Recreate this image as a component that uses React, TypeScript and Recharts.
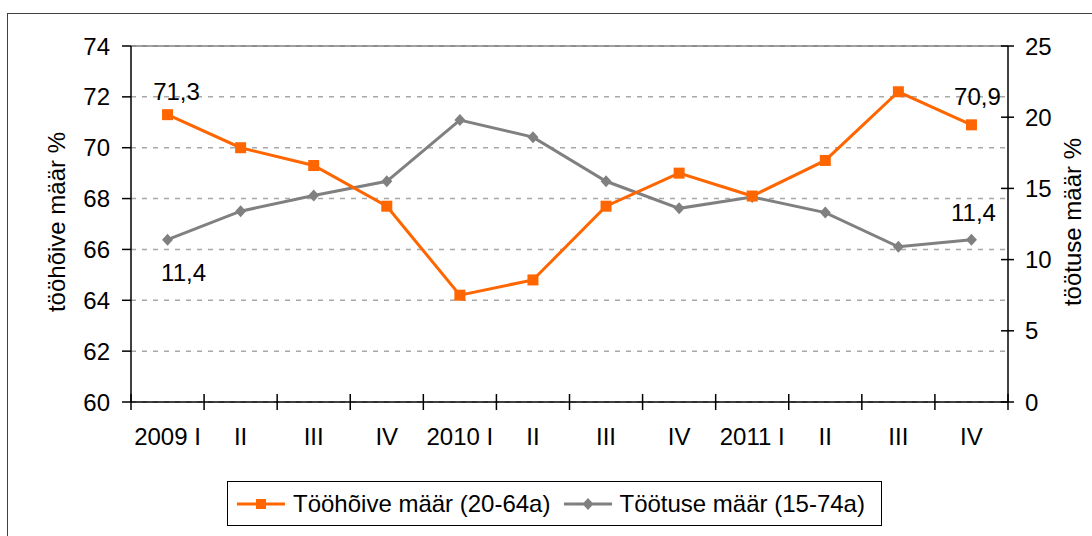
import { ComposedChart, Line, XAxis, YAxis, CartesianGrid, ReferenceLine, Label } from 'recharts';

const quarters = ['2009 I', 'II', 'III', 'IV', '2010 I', 'II', 'III', 'IV', '2011 I', 'II', 'III', 'IV'];
const employmentRate = [71.3, 70.0, 69.3, 67.7, 64.2, 64.8, 67.7, 69.0, 68.1, 69.5, 72.2, 70.9];
const unemploymentRate = [11.4, 13.4, 14.5, 15.5, 19.8, 18.6, 15.5, 13.6, 14.4, 13.3, 10.9, 11.4];
const leftTicks = [60, 62, 64, 66, 68, 70, 72, 74];
const rightTicks = [0, 5, 10, 15, 20, 25];
const seriesNames = ['Tööhõive määr (20-64a)', 'Töötuse määr (15-74a)'];
const axisTitles = ['tööhõive määr %', 'töötuse määr %'];

const ORANGE = '#FF6600';
const GREY = '#808080';
const FONT = '"Liberation Sans", Arial, sans-serif';
const FS = 24;
const LAST = quarters.length - 1;

// plot area geometry: 1092 wide minus margins (71 + 24) and two 60px axes
const MARGIN = { top: 46, right: 24, left: 71, bottom: 94 };
const PLOT_W = 1092 - MARGIN.left - MARGIN.right - 60 - 60;
const HALF_BAND = PLOT_W / quarters.length / 2;

const fmt = (v: number) => v.toFixed(1).replace('.', ',');

const data = quarters.map((q, i) => ({
  q,
  emp: employmentRate[i],
  unemp: unemploymentRate[i],
}));

function EmpDot(props: any) {
  const { cx, cy, index } = props;
  const v = props.payload?.emp ?? props.value;
  const showLabel = index === 0 || index === LAST;
  // first label sits a bit more to the right, like in the original
  const dx = index === 0 ? 9 : 6;
  const dy = index === 0 ? -15 : -20;
  return (
    <g key={`emp-${index}`}>
      <rect x={cx - 5.5} y={cy - 5.5} width={11} height={11} fill={ORANGE} />
      {showLabel && (
        <text x={cx + dx} y={cy + dy} textAnchor="middle" fontSize={FS} fontFamily={FONT} fill="#000">
          {fmt(v)}
        </text>
      )}
    </g>
  );
}

function UnempDot(props: any) {
  const { cx, cy, index } = props;
  const v = props.payload?.unemp ?? props.value;
  const showLabel = index === 0 || index === LAST;
  const dx = index === 0 ? 16 : 2;
  const dy = index === 0 ? 41 : -19;
  return (
    <g key={`unemp-${index}`}>
      <polygon
        points={`${cx},${cy - 6} ${cx + 5.5},${cy} ${cx},${cy + 6} ${cx - 5.5},${cy}`}
        fill={GREY}
      />
      {showLabel && (
        <text x={cx + dx} y={cy + dy} textAnchor="middle" fontSize={FS} fontFamily={FONT} fill="#000">
          {fmt(v)}
        </text>
      )}
    </g>
  );
}

// category label plus tick marks crossing the axis at the band boundaries
function CatTick(props: any) {
  const { x, y, payload, index } = props;
  return (
    <g>
      <line x1={x - HALF_BAND} x2={x - HALF_BAND} y1={y - 8} y2={y + 8} stroke="#000" strokeWidth={1.5} />
      {index === LAST && (
        <line x1={x + HALF_BAND} x2={x + HALF_BAND} y1={y - 8} y2={y + 8} stroke="#000" strokeWidth={1.5} />
      )}
      <text x={x} y={y + 43} textAnchor="middle" fontSize={FS} fontFamily={FONT} fill="#000">
        {payload.value}
      </text>
    </g>
  );
}

function RightTick(props: any) {
  const { x, y, payload } = props;
  return (
    <g>
      <line x1={x - 7} x2={x + 6} y1={y} y2={y} stroke="#000" strokeWidth={1.5} />
      <text x={x + 17} y={y} textAnchor="start" dominantBaseline="central" fontSize={FS} fontFamily={FONT} fill="#000">
        {payload.value}
      </text>
    </g>
  );
}

function LegendIcon({ color, shape }: { color: string; shape: 'square' | 'diamond' }) {
  return (
    <svg width={48} height={16} style={{ display: 'block' }}>
      <line x1={0} x2={48} y1={8} y2={8} stroke={color} strokeWidth={3} />
      {shape === 'square' ? (
        <rect x={19} y={3} width={10} height={10} fill={color} />
      ) : (
        <polygon points="24,2 29.5,8 24,14 18.5,8" fill={color} />
      )}
    </svg>
  );
}

export default function App() {
  return (
    <div style={{ position: 'absolute', left: 0, top: 0, width: 1092, height: 536, overflow: 'hidden', background: '#fff' }}>
      <div
        style={{
          position: 'absolute',
          left: 7,
          top: 13,
          width: 1100,
          height: 600,
          border: '1px solid #404040',
          boxSizing: 'border-box',
        }}
      />
      <div style={{ position: 'absolute', left: 0, top: 0 }}>
        <ComposedChart width={1092} height={536} data={data} margin={MARGIN}>
          <CartesianGrid
            xAxisId="cat"
            yAxisId="left"
            vertical={false}
            stroke="#A8A8A8"
            strokeWidth={1.5}
            strokeDasharray="5 6"
          />
          <ReferenceLine xAxisId="cat" yAxisId="left" y={74} stroke="#808080" strokeWidth={1.5} />
          <XAxis
            xAxisId="cat"
            dataKey="q"
            height={40}
            interval={0}
            padding={{ left: HALF_BAND, right: HALF_BAND }}
            tickLine={false}
            tickSize={0}
            tickMargin={0}
            axisLine={{ stroke: '#000', strokeWidth: 1.5 }}
            tick={<CatTick />}
          />
          <YAxis
            yAxisId="left"
            domain={[60, 74]}
            ticks={leftTicks}
            interval={0}
            allowDataOverflow
            width={60}
            tickSize={9}
            tickMargin={12}
            axisLine={{ stroke: '#000', strokeWidth: 1.5 }}
            tickLine={{ stroke: '#000', strokeWidth: 1.5 }}
            tick={{ fill: '#000', fontSize: FS, fontFamily: FONT }}
          >
            <Label
              content={() => (
                <text
                  x={56}
                  y={222}
                  transform="rotate(-90 56 222)"
                  textAnchor="middle"
                  dominantBaseline="central"
                  fontSize={FS}
                  fontFamily={FONT}
                  fill="#000"
                >
                  {axisTitles[0]}
                </text>
              )}
            />
          </YAxis>
          <YAxis
            yAxisId="right"
            orientation="right"
            domain={[0, 25]}
            ticks={rightTicks}
            interval={0}
            allowDataOverflow
            width={60}
            tickSize={0}
            tickMargin={0}
            tickLine={false}
            axisLine={{ stroke: '#000', strokeWidth: 1.5 }}
            tick={<RightTick />}
          >
            <Label
              content={() => (
                <text
                  x={1072}
                  y={222}
                  transform="rotate(-90 1072 222)"
                  textAnchor="middle"
                  dominantBaseline="central"
                  fontSize={FS}
                  fontFamily={FONT}
                  fill="#000"
                >
                  {axisTitles[1]}
                </text>
              )}
            />
          </YAxis>
          <Line
            xAxisId="cat"
            yAxisId="right"
            dataKey="unemp"
            name={seriesNames[1]}
            stroke={GREY}
            strokeWidth={3}
            dot={UnempDot}
            activeDot={false}
            isAnimationActive={false}
          />
          <Line
            xAxisId="cat"
            yAxisId="left"
            dataKey="emp"
            name={seriesNames[0]}
            stroke={ORANGE}
            strokeWidth={3}
            dot={EmpDot}
            activeDot={false}
            isAnimationActive={false}
          />
        </ComposedChart>
      </div>

      {/* legend box */}
      <div
        style={{
          position: 'absolute',
          left: 227,
          top: 481,
          width: 655,
          height: 45,
          border: '1.5px solid #000',
          boxSizing: 'border-box',
          display: 'flex',
          alignItems: 'center',
          paddingLeft: 9,
          fontFamily: FONT,
          fontSize: FS,
          color: '#000',
          whiteSpace: 'nowrap',
        }}
      >
        <LegendIcon color={ORANGE} shape="square" />
        <span style={{ marginLeft: 8 }}>{seriesNames[0]}</span>
        <span style={{ marginLeft: 14 }}>
          <LegendIcon color={GREY} shape="diamond" />
        </span>
        <span style={{ marginLeft: 7 }}>{seriesNames[1]}</span>
      </div>
    </div>
  );
}
